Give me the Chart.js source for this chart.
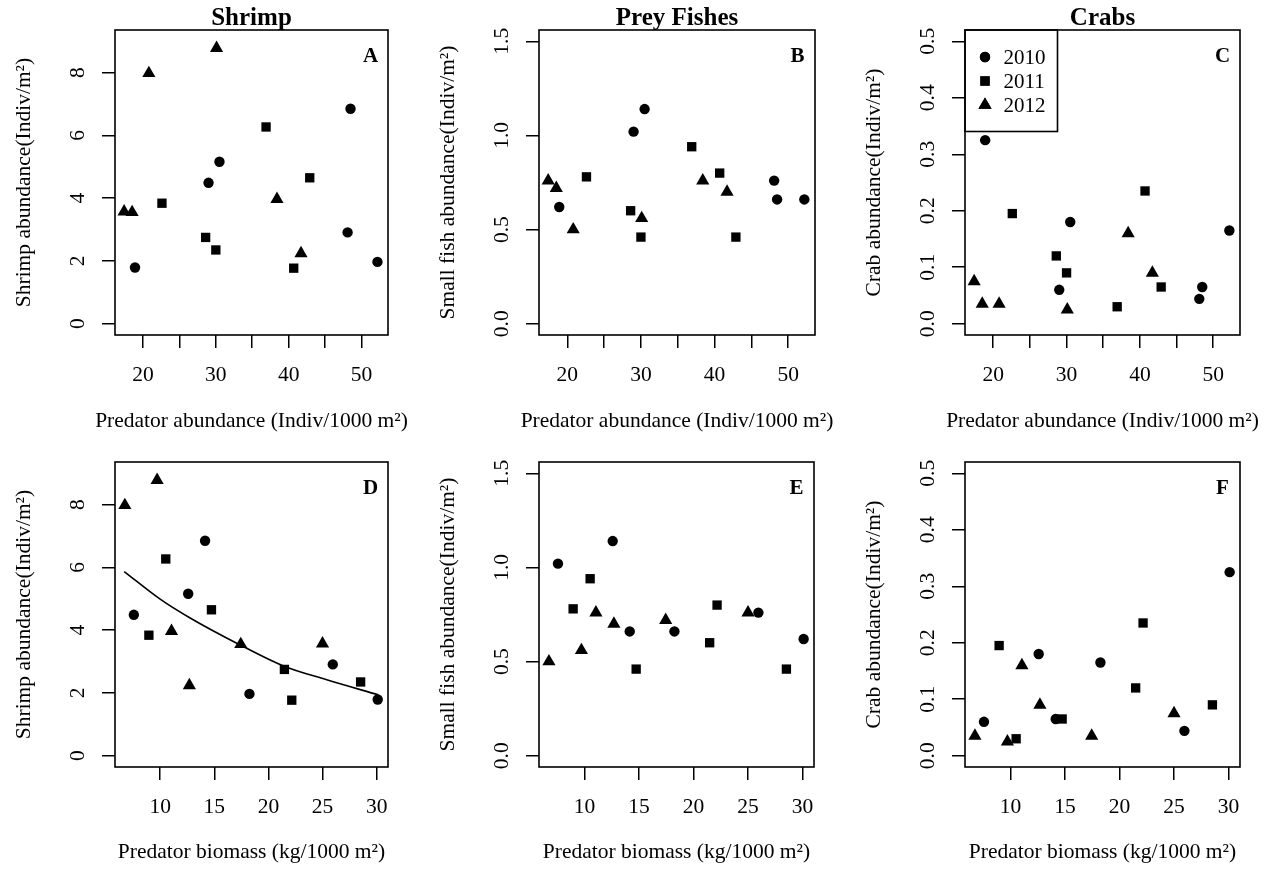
<!DOCTYPE html>
<html><head><meta charset="utf-8">
<script src="https://cdn.jsdelivr.net/npm/chart.js@4.4.1/dist/chart.umd.min.js"></script>
<style>
html,body{margin:0;padding:0;background:#fff;}
#wrap{position:relative;width:1277px;height:869px;background:#fff;overflow:hidden;}
canvas{position:absolute;}
</style></head><body><div id="wrap">
<canvas id="cA" width="424" height="432" style="left:0px;top:0px;width:424px;height:432px"></canvas>
<canvas id="cB" width="426" height="432" style="left:424px;top:0px;width:426px;height:432px"></canvas>
<canvas id="cC" width="427" height="432" style="left:850px;top:0px;width:427px;height:432px"></canvas>
<canvas id="cD" width="424" height="437" style="left:0px;top:432px;width:424px;height:437px"></canvas>
<canvas id="cE" width="426" height="437" style="left:424px;top:432px;width:426px;height:437px"></canvas>
<canvas id="cF" width="427" height="437" style="left:850px;top:432px;width:427px;height:437px"></canvas>
</div>
<script>
const FONT = '"Liberation Serif", "Times New Roman", Times, serif';
const FS = 21.5;

// ---- data (one entry per site; order is shared across arrays of same year) ----
const years = ['2010', '2011', '2012'];

const predAbundance2010 = [18.9, 29.0, 30.5, 48.1, 48.5, 52.2];
const predBiomass2010   = [30.1, 7.57, 12.59, 25.95, 14.15, 18.25];
const shrimp2010        = [1.79, 4.49, 5.16, 2.91, 6.85, 1.97];
const smallFish2010     = [0.62, 1.02, 1.14, 0.76, 0.66, 0.66];
const crab2010          = [0.325, 0.06, 0.18, 0.044, 0.065, 0.165];

const predAbundance2011 = [22.6, 28.6, 30.0, 36.9, 40.7, 42.9];
const predBiomass2011   = [8.96, 21.48, 28.52, 10.52, 22.16, 14.74];
const shrimp2011        = [3.84, 2.75, 2.35, 6.27, 1.77, 4.65];
const smallFish2011     = [0.78, 0.60, 0.46, 0.94, 0.80, 0.46];
const crab2011          = [0.195, 0.12, 0.09, 0.03, 0.235, 0.065];

const predAbundance2012 = [17.4, 18.5, 20.8, 30.1, 38.4, 41.7];
const predBiomass2012   = [25.0, 17.45, 6.74, 9.72, 11.05, 12.7];
const shrimp2012        = [3.57, 3.55, 7.98, 8.78, 3.97, 2.24];
const smallFish2012     = [0.76, 0.72, 0.50, 0.56, 0.76, 0.70];
const crab2012          = [0.075, 0.035, 0.035, 0.025, 0.16, 0.09];

// fitted curve in panel D
const curveBiomass = [6.68, 10.0, 12.77, 17.39, 21.39, 25.39, 30.16];
const curveShrimp  = [5.87, 4.99, 4.39, 3.53, 2.86, 2.42, 1.94];

// ticks
const xTicksAbundance = [20, 25, 30, 35, 40, 45, 50];
const xTicksBiomass   = [10, 15, 20, 25, 30];
const yTicksShrimp    = [0, 2, 4, 6, 8];
const yTicksSmallFish = [0, 0.5, 1.0, 1.5];
const yTicksCrab      = [0, 0.1, 0.2, 0.3, 0.4, 0.5];

const columnTitles = ['Shrimp', 'Prey Fishes', 'Crabs'];
const panelLetters = ['A', 'B', 'C', 'D', 'E', 'F'];
const yTitleShrimp = 'Shrimp abundance(Indiv/m\u00B2)';
const yTitleFish   = 'Small fish abundance(Indiv/m\u00B2)';
const yTitleCrab   = 'Crab abundance(Indiv/m\u00B2)';
const xTitleAbundance = 'Predator abundance (Indiv/1000 m\u00B2)';
const xTitleBiomass   = 'Predator biomass (kg/1000 m\u00B2)';

const markerStyles = ['circle', 'rect', 'triangle'];
const markerRadius = [5.2, 6.6, 7.6];

function pts(xs, ys) { return xs.map((x, i) => ({ x: x, y: ys[i] })); }

const panelPlugin = {
  id: 'panelDeco',
  afterDraw(chart) {
    const o = chart.options.plugins.panelDeco;
    const ctx = chart.ctx;
    const ca = chart.chartArea;
    ctx.save();
    // box
    ctx.strokeStyle = '#000';
    ctx.lineWidth = 1.6;
    ctx.strokeRect(ca.left, ca.top, ca.right - ca.left, ca.bottom - ca.top);
    // y tick labels, rotated like R
    const ys = chart.scales.y;
    ctx.fillStyle = '#000';
    ctx.font = FS + 'px ' + FONT;
    ctx.textAlign = 'center';
    ctx.textBaseline = 'middle';
    ys.ticks.forEach(t => {
      const py = ys.getPixelForValue(t.value);
      ctx.save();
      ctx.translate(ca.left - 37, py);
      ctx.rotate(-Math.PI / 2);
      ctx.fillText(t.value.toFixed(o.yDecimals), 0, 0);
      ctx.restore();
    });
    // x title
    ctx.textAlign = 'center';
    ctx.fillText(o.xTitle, (ca.left + ca.right) / 2, o.xTitleY);
    // panel letter
    ctx.font = 'bold 21px ' + FONT;
    ctx.fillText(o.letter, ca.right - 17.5, ca.top + 27);
    // legend
    if (o.legend) {
      ctx.lineWidth = 1.6;
      ctx.strokeRect(ca.left, ca.top, 92.5, 101.5);
      ctx.font = '21px ' + FONT;
      ctx.textAlign = 'left';
      years.forEach((yr, i) => {
        const cy = ca.top + 27 + i * 24;
        Chart.helpers.drawPoint(ctx, { pointStyle: markerStyles[i], radius: markerRadius[i], borderWidth: 0, rotation: 0 }, ca.left + 20, cy);
        ctx.fillStyle = '#000';
        ctx.fill();
        ctx.fillText(yr, ca.left + 38.5, cy + 1);
      });
    }
    ctx.restore();
  }
};

function makePanel(p) {
  const datasets = [
    { label: years[0], data: pts(p.x[0], p.y[0]) },
    { label: years[1], data: pts(p.x[1], p.y[1]) },
    { label: years[2], data: pts(p.x[2], p.y[2]) }
  ].map((d, i) => Object.assign(d, {
    pointStyle: markerStyles[i], pointRadius: markerRadius[i],
    backgroundColor: '#000', borderColor: '#000', borderWidth: 0, pointBorderWidth: 0
  }));
  if (p.curve) {
    datasets.push({
      label: 'fit', data: pts(curveBiomass, curveShrimp), showLine: true,
      pointRadius: 0, borderColor: '#000', borderWidth: 1.6, backgroundColor: '#000',
      cubicInterpolationMode: 'monotone', fill: false
    });
  }
  const canvas = document.getElementById(p.id);
  const W = canvas.width, H = canvas.height;
  const hasTitle = !!p.title;
  const gridOpts = { display: true, drawOnChartArea: false, drawTicks: true, tickLength: 13, color: '#000', lineWidth: 1.5 };
  return new Chart(canvas, {
    type: 'scatter',
    data: { datasets: datasets },
    plugins: [panelPlugin],
    options: {
      responsive: false, animation: false, events: [],
      layout: { padding: { left: 0, right: W - p.plotRight, top: hasTitle ? 0 : 30, bottom: 0 } },
      plugins: {
        legend: { display: false }, tooltip: { enabled: false },
        title: {
          display: hasTitle, text: p.title || '', fullSize: false, color: '#000',
          font: { family: FONT, size: 25, weight: 'bold', lineHeight: 0.92 },
          padding: { top: 7, bottom: 0 }
        },
        panelDeco: { yDecimals: p.yDecimals, xTitle: p.xTitle, xTitleY: p.xTitleY, letter: p.letter, legend: !!p.legend }
      },
      scales: {
        x: {
          type: 'linear', position: 'bottom', min: p.xMin, max: p.xMax,
          afterBuildTicks: s => { s.ticks = p.xTicks.map(v => ({ value: v })); },
          afterFit: s => { s.height = H - 335; },
          border: { display: false },
          grid: gridOpts,
          ticks: {
            display: true, autoSkip: false, maxRotation: 0, minRotation: 0, padding: 14,
            color: '#000', font: { family: FONT, size: FS },
            callback: v => (Math.abs(v % p.xLabelEvery) < 1e-9 ? String(v) : '')
          }
        },
        y: {
          type: 'linear', position: 'left', min: p.yMin, max: p.yMax,
          afterBuildTicks: s => { s.ticks = p.yTicks.map(v => ({ value: v })); },
          afterFit: s => { s.width = 115; },
          border: { display: false },
          grid: gridOpts,
          ticks: { display: false },
          title: {
            display: true, text: p.yTitle, color: '#000',
            font: { family: FONT, size: FS, lineHeight: 1.2 },
            padding: { top: 11, bottom: 0 }
          }
        }
      }
    }
  });
}

const abundX = [predAbundance2010, predAbundance2011, predAbundance2012];
const biomassX = [predBiomass2010, predBiomass2011, predBiomass2012];
const shrimpY = [shrimp2010, shrimp2011, shrimp2012];
const fishY = [smallFish2010, smallFish2011, smallFish2012];
const crabY = [crab2010, crab2011, crab2012];

const abundRange = { xMin: 16.15, xMax: 53.65, xTicks: xTicksAbundance, xLabelEvery: 10, xTitle: xTitleAbundance, xTitleY: 421 };
const biomassRange = { xMin: 5.83, xMax: 31.05, xTicks: xTicksBiomass, xLabelEvery: 5, xTitle: xTitleBiomass, xTitleY: 420 };
const shrimpRange = { yMin: -0.36, yMax: 9.36, yTicks: yTicksShrimp, yDecimals: 0, yTitle: yTitleShrimp };
const fishRange = { yMin: -0.06, yMax: 1.56, yTicks: yTicksSmallFish, yDecimals: 1, yTitle: yTitleFish };
const crabRange = { yMin: -0.02, yMax: 0.52, yTicks: yTicksCrab, yDecimals: 1, yTitle: yTitleCrab };

makePanel(Object.assign({ id: 'cA', plotRight: 388, title: columnTitles[0], letter: panelLetters[0], x: abundX, y: shrimpY }, abundRange, shrimpRange));
makePanel(Object.assign({ id: 'cB', plotRight: 391, title: columnTitles[1], letter: panelLetters[1], x: abundX, y: fishY }, abundRange, fishRange));
makePanel(Object.assign({ id: 'cC', plotRight: 390, title: columnTitles[2], letter: panelLetters[2], x: abundX, y: crabY, legend: true }, abundRange, crabRange));
makePanel(Object.assign({ id: 'cD', plotRight: 388, letter: panelLetters[3], x: biomassX, y: shrimpY, curve: true }, biomassRange, shrimpRange));
makePanel(Object.assign({ id: 'cE', plotRight: 390, letter: panelLetters[4], x: biomassX, y: fishY }, biomassRange, fishRange));
makePanel(Object.assign({ id: 'cF', plotRight: 390, letter: panelLetters[5], x: biomassX, y: crabY }, biomassRange, crabRange));
</script>
</body></html>
